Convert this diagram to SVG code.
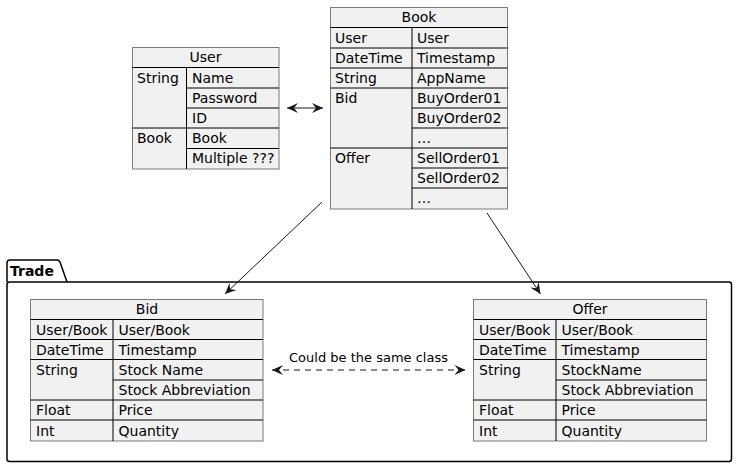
<svg xmlns="http://www.w3.org/2000/svg" width="737" height="467" viewBox="0 0 737 467">
<defs>
<style>
text{font-family:"DejaVu Sans","Liberation Sans",sans-serif;font-size:14px;fill:#000}
.h{text-anchor:middle}
.box{fill:#F1F1F1;stroke:#7a7a7a;stroke-width:1}
.ln{stroke:#000;stroke-width:1;fill:none}
.pkg{fill:none;stroke:#000;stroke-width:1.5}
.conn{stroke:#181818;stroke-width:1;fill:none}
.lbl{font-size:13px;text-anchor:middle}
.pk{font-size:14px;font-weight:bold}
</style>
<marker id="ah" markerUnits="userSpaceOnUse" markerWidth="14" markerHeight="12" viewBox="-12 -6 13 12" refX="0" refY="0" orient="auto-start-reverse">
<path d="M0,0 L-11,-5 L-7,0 L-11,5 Z" fill="#181818"/>
</marker>
</defs>

<g id="pkg-trade">
<path class="pkg" d="M7,282 L7,263 Q7,260 10,260 L57,260 Q59,260 60,262 L67,282"/>
<rect class="pkg" x="7" y="282" width="724.5" height="179.5" rx="2.5"/>
<text class="pk" x="10" y="276">Trade</text>
</g>

<g id="node-user">
<rect class="box" x="132.5" y="47.5" width="146.5" height="121.5"/>
<path class="ln" d="M132.5,67.5H279M186.5,88H279M186.5,108H279M132.5,128H279M186.5,148.5H279M186.5,67.5V169"/>
<text class="h" x="205.5" y="62">User</text>
<text x="137" y="83">String</text>
<text x="137" y="143">Book</text>
<text x="192" y="83">Name</text>
<text x="192" y="103">Password</text>
<text x="192" y="123">ID</text>
<text x="192" y="143">Book</text>
<text x="192" y="163">Multiple ???</text>
</g>

<g id="node-book">
<rect class="box" x="330.5" y="7.5" width="177" height="201.5"/>
<path class="ln" d="M330.5,27.5H507.5M330.5,48H507.5M330.5,68H507.5M330.5,88H507.5M412,108H507.5M412,128H507.5M330.5,148H507.5M412,168H507.5M412,188H507.5M412,27.5V209"/>
<text class="h" x="419" y="22">Book</text>
<text x="335" y="43">User</text>
<text x="417" y="43">User</text>
<text x="335" y="63">DateTime</text>
<text x="417" y="63">Timestamp</text>
<text x="335" y="83">String</text>
<text x="417" y="83">AppName</text>
<text x="335" y="103">Bid</text>
<text x="417" y="103">BuyOrder01</text>
<text x="417" y="123">BuyOrder02</text>
<text x="417" y="143">…</text>
<text x="335" y="163">Offer</text>
<text x="417" y="163">SellOrder01</text>
<text x="417" y="183">SellOrder02</text>
<text x="417" y="203">…</text>
</g>

<g id="node-bid">
<rect class="box" x="30.5" y="299.5" width="232.5" height="141.5"/>
<path class="ln" d="M30.5,319.5H263M30.5,339.5H263M30.5,359.5H263M113,380H263M30.5,400H263M30.5,420H263M113,319.5V441"/>
<text class="h" x="147" y="314">Bid</text>
<text x="36" y="335">User/Book</text>
<text x="118.5" y="335">User/Book</text>
<text x="36" y="355">DateTime</text>
<text x="118.5" y="355">Timestamp</text>
<text x="36" y="375">String</text>
<text x="118.5" y="375">Stock Name</text>
<text x="118.5" y="395">Stock Abbreviation</text>
<text x="36" y="415">Float</text>
<text x="118.5" y="415">Price</text>
<text x="36" y="436">Int</text>
<text x="118.5" y="436">Quantity</text>
</g>

<g id="node-offer">
<rect class="box" x="473.5" y="299.5" width="233" height="141.5"/>
<path class="ln" d="M473.5,319.5H706.5M473.5,339.5H706.5M473.5,359.5H706.5M556,380H706.5M473.5,400H706.5M473.5,420H706.5M556,319.5V441"/>
<text class="h" x="590" y="314">Offer</text>
<text x="479" y="335">User/Book</text>
<text x="561.5" y="335">User/Book</text>
<text x="479" y="355">DateTime</text>
<text x="561.5" y="355">Timestamp</text>
<text x="479" y="375">String</text>
<text x="561.5" y="375">StockName</text>
<text x="561.5" y="395">Stock Abbreviation</text>
<text x="479" y="415">Float</text>
<text x="561.5" y="415">Price</text>
<text x="479" y="436">Int</text>
<text x="561.5" y="436">Quantity</text>
</g>

<g id="connectors">
<path class="conn" d="M287,108 L323,108" marker-start="url(#ah)" marker-end="url(#ah)"/>
<path class="conn" d="M322,202 L225,294" marker-end="url(#ah)"/>
<path class="conn" d="M487,213 L540.5,294" marker-end="url(#ah)"/>
<path class="conn" d="M272,370 L465.5,370" stroke-dasharray="6,5" marker-start="url(#ah)" marker-end="url(#ah)"/>
<text class="lbl" x="368.5" y="362">Could be the same class</text>
</g>
</svg>
